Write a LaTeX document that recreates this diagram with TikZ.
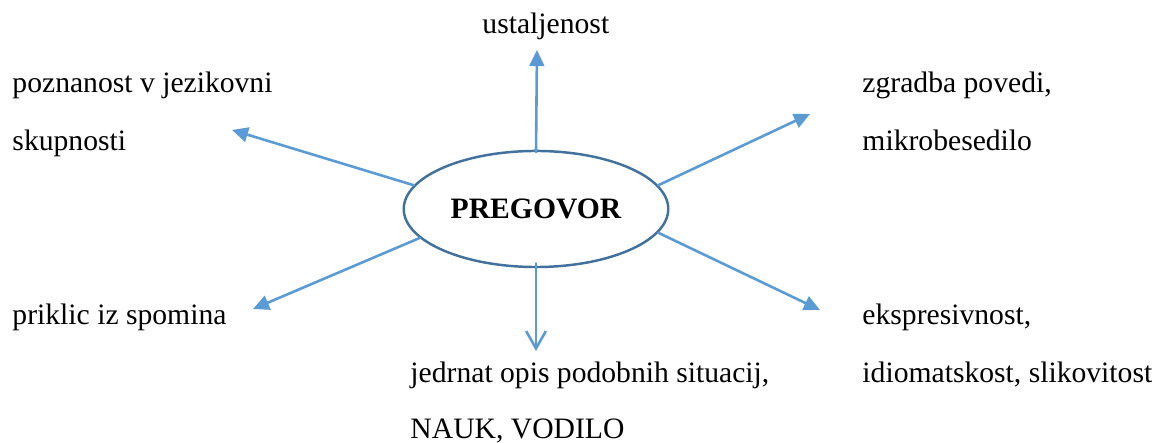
\documentclass[tikz,border=0pt]{standalone}
\usepackage{fontspec}
\setmainfont{Liberation Serif}
\usetikzlibrary{arrows.meta,shapes.geometric}
\definecolor{arrowblue}{HTML}{5B9BD5}
\definecolor{rimblue}{HTML}{41719C}
\tikzset{
  label text/.style={anchor=base west,inner sep=0pt,font=\fontsize{12}{12}\selectfont},
  out arrow/.style={arrowblue,line width=1.05pt,-{Triangle[length=6.5pt,width=6pt]}},
  open arrow/.style={arrowblue,line width=1.05pt,-{Straight Barb[length=7pt,width=8pt]}}
}
\begin{document}
\begin{tikzpicture}[x=0.405pt,y=-0.405pt,line cap=round,line join=round]
  \useasboundingbox (0,0) rectangle (1152,443);
  % centre
  \node[ellipse,draw=rimblue,line width=1pt,minimum width=101pt,minimum height=47pt,
        font=\fontsize{12}{12}\selectfont\bfseries] (pregovor) at (536,209) {PREGOVOR};
  % arrow tips
  \coordinate (tipN) at (537,50);
  \coordinate (tipNW) at (232,130);
  \coordinate (tipNE) at (810,114);
  \coordinate (tipSW) at (253,309);
  \coordinate (tipSE) at (820,310);
  \coordinate (tipS) at (536,351);
  \draw[out arrow] ([yshift=-1pt]pregovor.north) -- (tipN);
  \draw[out arrow] (pregovor.169) -- (tipNW);
  \draw[out arrow] (pregovor.11) -- (tipNE);
  \draw[out arrow] (pregovor.194) -- (tipSW);
  \draw[out arrow] (pregovor.349) -- (tipSE);
  \draw[open arrow] ([yshift=2pt]pregovor.south) -- (tipS);
  % labels
  \node[label text] (ustal) at (482,34) {ustaljenost};
  \node[label text] (pozn1) at (12,93) {poznanost v jezikovni};
  \node[label text] (pozn2) at (12,151) {skupnosti};
  \node[label text] (zgr1) at (862,93) {zgradba povedi,};
  \node[label text] (zgr2) at (862,151) {mikrobesedilo};
  \node[label text] (prik) at (12,325) {priklic iz spomina};
  \node[label text] (eksp1) at (862,325) {ekspresivnost,};
  \node[label text] (eksp2) at (862,383) {idiomatskost, slikovitost};
  \node[label text] (jedr1) at (410,383) {jedrnat opis podobnih situacij,};
  \node[label text] (jedr2) at (410,439) {NAUK, VODILO};
\end{tikzpicture}
\end{document}
